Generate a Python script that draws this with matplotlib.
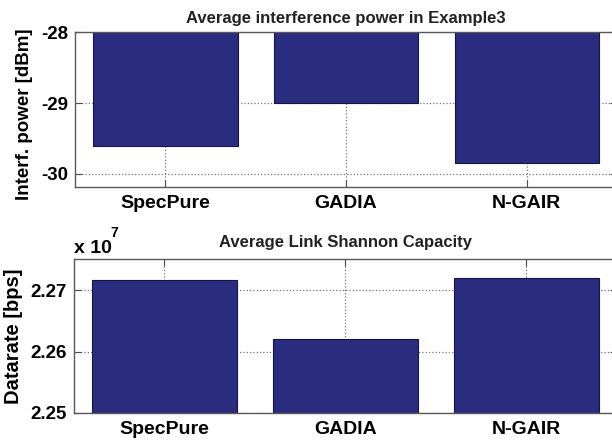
import numpy as np
import matplotlib
matplotlib.use('Agg')
import matplotlib.pyplot as plt

# data
methods = ['SpecPure', 'GADIA', 'N-GAIR']
interf_dbm = [-29.60, -29.00, -29.84]
capacity_bps = [2.2717e7, 2.2621e7, 2.2721e7]
interf_ticks = [-30, -29, -28]
cap_ticks = [2.25, 2.26, 2.27]

plt.rcParams['font.family'] = ['Liberation Sans', 'DejaVu Sans']
plt.rcParams['font.weight'] = 'bold'

bar_color = '#2a2c80'
x = np.arange(1, len(methods) + 1)

fig = plt.figure(figsize=(6.12, 4.43), dpi=100)
ax1 = fig.add_axes([0.1225, 0.5786, 0.886, 0.3486])
ax2 = fig.add_axes([0.1209, 0.0684, 0.887, 0.3463])


def style(ax):
    ax.set_axisbelow(True)
    ax.grid(True, linestyle=':', color='0.45', linewidth=0.9)
    ax.set_xlim(0.5, 3.5)
    ax.set_xticks(x)
    ax.set_xticklabels(methods)
    ax.tick_params(direction='in', length=5, width=0.8, color='0.3',
                   top=True, right=True, pad=5)
    ax.tick_params(axis='x', labelsize=14, pad=6)
    ax.tick_params(axis='y', labelsize=13.5)
    for s in ax.spines.values():
        s.set_color('0.35')
        s.set_linewidth(1.0)
    for lab in ax.get_xticklabels() + ax.get_yticklabels():
        lab.set_fontweight('bold')


# верхний график: бары от 0 вниз, обрезаются осью
ax1.bar(x, interf_dbm, width=0.8, color=bar_color, edgecolor='#15163f', linewidth=0.8)
ax1.set_ylim(-30.18, -28)
ax1.set_yticks(interf_ticks)
ax1.set_yticklabels([str(t) for t in interf_ticks])
style(ax1)
ax1.set_title('Average interference power in Example3', fontsize=12,
              fontweight='bold', color='#222222', pad=7)
ax1.set_ylabel('Interf. power [dBm]', fontsize=13.5, fontweight='bold')
ax1.yaxis.set_label_coords(-0.078, 0.47)

# нижний график
cap_scaled = np.array(capacity_bps) / 1e7
ax2.bar(x, cap_scaled, width=0.8, color=bar_color, edgecolor='#15163f', linewidth=0.8)
ax2.set_ylim(2.25, 2.2751)
ax2.set_yticks(cap_ticks)
ax2.set_yticklabels([f'{t:.2f}' for t in cap_ticks])
style(ax2)
ax2.set_title('Average Link Shannon Capacity', fontsize=12,
              fontweight='bold', color='#222222', pad=9)
ax2.set_ylabel('Datarate [bps]', fontsize=14.5, fontweight='bold')
ax2.yaxis.set_label_coords(-0.094, 0.5)
ax2.text(0.0, 1.012, 'x 10', transform=ax2.transAxes, fontsize=14,
         fontweight='bold', ha='left', va='bottom')
ax2.text(0.067, 1.125, '7', transform=ax2.transAxes, fontsize=10,
         fontweight='bold', ha='left', va='bottom')

fig.savefig('out.png', dpi=100)
